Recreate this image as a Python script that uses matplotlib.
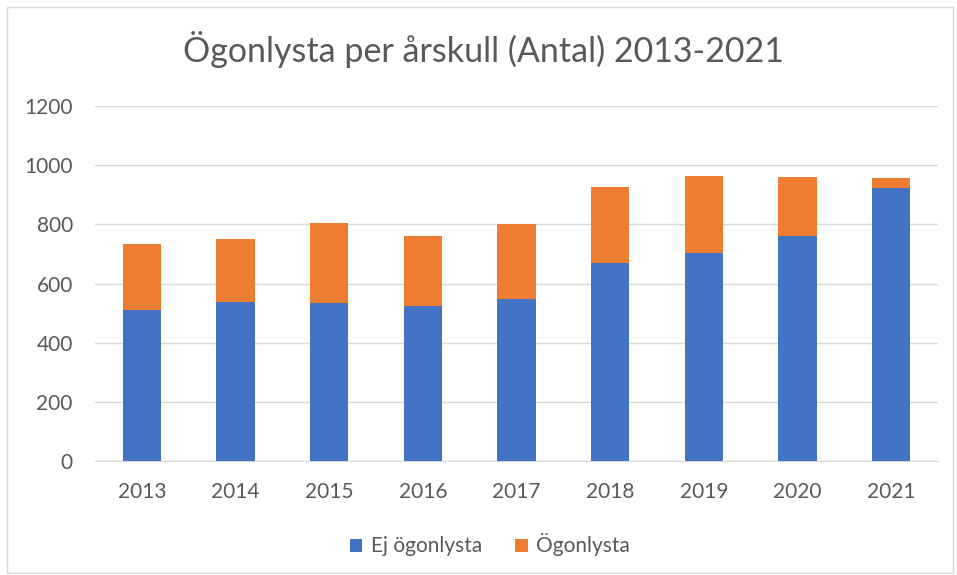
import matplotlib.pyplot as plt
from matplotlib.patches import Rectangle

years = ['2013', '2014', '2015', '2016', '2017', '2018', '2019', '2020', '2021']
ej_ogonlysta = [512, 538, 535, 524, 548, 669, 704, 762, 922]
ogonlysta = [223, 211, 271, 238, 252, 257, 258, 197, 36]

blue = '#4472C4'
orange = '#ED7D31'
text_grey = '#595959'

plt.rcParams['font.family'] = ['Lato', 'DejaVu Sans']

fig = plt.figure(figsize=(9.57, 5.75), dpi=100)
ax = fig.add_axes([95 / 957, 1 - 461 / 575, (938 - 95) / 957, (461 - 106) / 575])

# outer chart border
fig.patches.append(Rectangle((7 / 957, 2 / 575), 946 / 957, 566 / 575,
                             transform=fig.transFigure, fill=False,
                             edgecolor='#d9d9d9', linewidth=1))

x = range(len(years))
ax.bar(x, ej_ogonlysta, width=0.41, color=blue, label='Ej ögonlysta', zorder=3)
ax.bar(x, ogonlysta, width=0.41, bottom=ej_ogonlysta, color=orange,
       label='Ögonlysta', zorder=3)

ax.set_xlim(-0.5, len(years) - 0.5)
ax.set_ylim(0, 1200)
ax.set_yticks(range(0, 1201, 200))
ax.set_xticks(list(x))
ax.set_xticklabels(years)
ax.grid(axis='y', color='#d9d9d9', linewidth=1, zorder=0)
for side in ['top', 'right', 'left']:
    ax.spines[side].set_visible(False)
ax.spines['bottom'].set_color('#d9d9d9')
ax.tick_params(axis='both', length=0, labelsize=15, colors=text_grey)
ax.tick_params(axis='x', pad=15)
ax.tick_params(axis='y', pad=16)

fig.text(483 / 957, 1 - 50 / 575, 'Ögonlysta per årskull (Antal) 2013-2021',
         ha='center', va='center', fontsize=24.5, color=text_grey)

fig.legend(loc='center', bbox_to_anchor=(490 / 957, 1 - 545 / 575), ncol=2,
           frameon=False, fontsize=15, labelcolor=text_grey,
           handlelength=0.6, handleheight=0.6, columnspacing=1.6,
           handletextpad=0.4)

fig.savefig('out.png', dpi=100)
